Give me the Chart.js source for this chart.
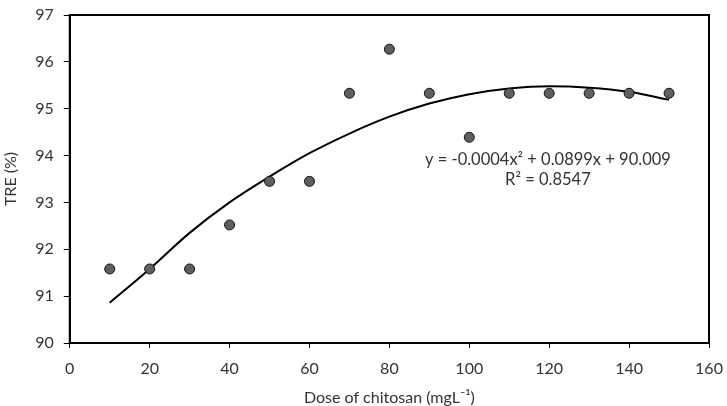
<!DOCTYPE html>
<html>
<head>
<meta charset="utf-8">
<script src="https://cdn.jsdelivr.net/npm/chart.js@4"></script>
<style>
  html, body { margin: 0; padding: 0; background: #fff; }
  #wrap { width: 727px; height: 406px; }
</style>
</head>
<body>
<div id="wrap"><canvas id="c" width="727" height="406"></canvas></div>
<script>
// Data
const doses = [10, 20, 30, 40, 50, 60, 70, 80, 90, 100, 110, 120, 130, 140, 150];
const treValues = [91.58, 91.58, 91.58, 92.52, 93.45, 93.45, 95.33, 96.27, 95.33, 94.39, 95.33, 95.33, 95.33, 95.33, 95.33];
const trendValues = [90.86, 91.58, 92.35, 93.0, 93.55, 94.05, 94.47, 94.83, 95.11, 95.31, 95.43, 95.48, 95.45, 95.36, 95.19];
const xTicks = [0, 20, 40, 60, 80, 100, 120, 140, 160];
const yTicks = [90, 91, 92, 93, 94, 95, 96, 97];
const equationText = "y = -0.0004x\u00B2 + 0.0899x + 90.009";
const r2Text = "R\u00B2 = 0.8547";
const xTitle = "Dose of chitosan (mgL\u207B\u00B9)";
const yTitle = "TRE (%)";

const FONT = "Lato";
const TXT = "#333333";

const boxPlugin = {
  id: 'boxPlugin',
  afterDraw(chart) {
    const { ctx, chartArea: a } = chart;
    ctx.save();
    ctx.strokeStyle = '#000';
    ctx.lineWidth = 2;
    ctx.strokeRect(a.left, a.top, a.right - a.left, a.bottom - a.top);
    ctx.fillStyle = TXT;
    ctx.font = "16.5px " + FONT;
    ctx.textAlign = 'center';
    ctx.textBaseline = 'middle';
    const cx = a.left + 0.748 * (a.right - a.left);
    ctx.fillText(equationText, cx, a.top + 0.442 * (a.bottom - a.top));
    ctx.fillText(r2Text, cx, a.top + 0.503 * (a.bottom - a.top));
    ctx.restore();
  }
};

new Chart(document.getElementById('c'), {
  type: 'scatter',
  data: {
    datasets: [
      {
        label: 'TRE',
        data: doses.map((d, i) => ({ x: d, y: treValues[i] })),
        backgroundColor: '#5f5f5f',
        borderColor: '#111',
        borderWidth: 1,
        pointRadius: 5,
        order: 1
      },
      {
        label: 'Trend',
        type: 'line',
        data: doses.map((d, i) => ({ x: d, y: trendValues[i] })),
        borderColor: '#000',
        borderWidth: 2,
        pointRadius: 0,
        fill: false,
        cubicInterpolationMode: 'monotone',
        order: 2
      }
    ]
  },
  options: {
    responsive: false,
    animation: false,
    devicePixelRatio: 1,
    layout: { padding: { top: 15, right: 18, left: 1, bottom: 0 } },
    plugins: { legend: { display: false }, tooltip: { enabled: false } },
    scales: {
      x: {
        type: 'linear',
        min: 0, max: 160,
        afterBuildTicks: (s) => { s.ticks = xTicks.map(v => ({ value: v })); },
        afterFit: (s) => { s.paddingLeft = 0; s.paddingRight = 0; },
        grid: { drawOnChartArea: false, color: '#000', tickLength: 5, tickWidth: 1 },
        border: { display: true, color: '#000', width: 2 },
        ticks: { color: TXT, font: { family: FONT, size: 16, lineHeight: 1.0 }, padding: 13, maxRotation: 0 },
        title: { display: true, text: xTitle, color: TXT, font: { family: FONT, size: 16, lineHeight: 1.0 }, padding: { top: 0, bottom: 0 } }
      },
      y: {
        type: 'linear',
        min: 90, max: 97,
        afterBuildTicks: (s) => { s.ticks = yTicks.map(v => ({ value: v })); },
        afterFit: (s) => { s.paddingTop = 0; s.paddingBottom = 0; },
        grid: { drawOnChartArea: false, color: '#000', tickLength: 6, tickWidth: 1 },
        border: { display: true, color: '#000', width: 2 },
        ticks: { color: TXT, font: { family: FONT, size: 16 }, padding: 10 },
        title: { display: true, text: yTitle, color: TXT, font: { family: FONT, size: 16 }, padding: { top: 0, bottom: 5 } }
      }
    }
  },
  plugins: [boxPlugin]
});
</script>
</body>
</html>
